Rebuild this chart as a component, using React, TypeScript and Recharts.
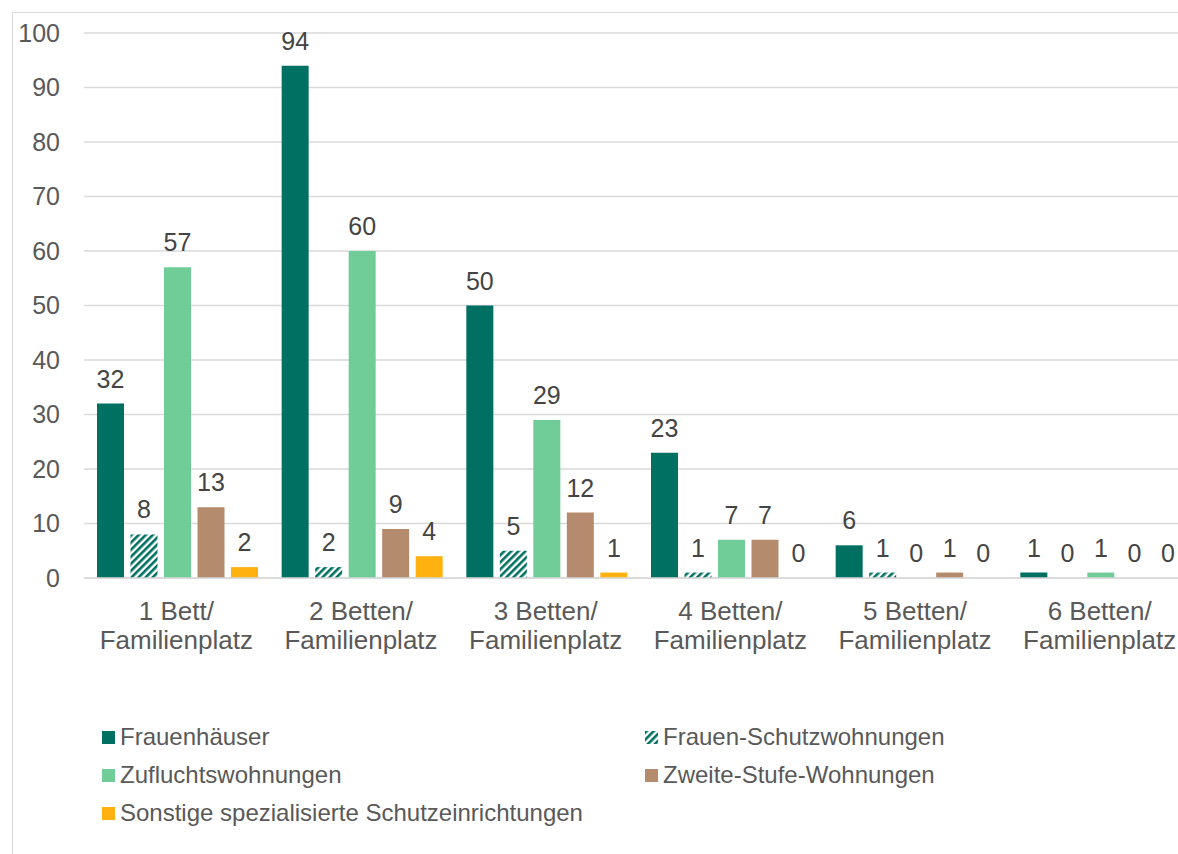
import { BarChart, Bar, XAxis, YAxis, CartesianGrid, LabelList } from 'recharts';

// categories, each split in two lines as in the original axis
const categoryTop = ['1 Bett/', '2 Betten/', '3 Betten/', '4 Betten/', '5 Betten/', '6 Betten/'];
const categoryBottom = ['Familienplatz', 'Familienplatz', 'Familienplatz', 'Familienplatz', 'Familienplatz', 'Familienplatz'];

const frauenhaeuser = [32, 94, 50, 23, 6, 1];
const schutzwohnungen = [8, 2, 5, 1, 1, 0];
const zufluchtswohnungen = [57, 60, 29, 7, 0, 1];
const zweiteStufe = [13, 9, 12, 7, 1, 0];
const sonstige = [2, 4, 1, 0, 0, 0];

const yTicks = [0, 10, 20, 30, 40, 50, 60, 70, 80, 90, 100];

const data = categoryTop.map((top, i) => ({
  name: top + '|' + categoryBottom[i],
  fh: frauenhaeuser[i],
  fs: schutzwohnungen[i],
  zw: zufluchtswohnungen[i],
  zs: zweiteStufe[i],
  so: sonstige[i],
}));

const colors = {
  fh: '#007062',
  fs: '#007062',
  zw: '#70CD98',
  zs: '#B58B6D',
  so: '#FFB20F',
};

const FONT = '"Liberation Sans", Arial, sans-serif';

const legendItems = [
  { key: 'fh', label: 'Frauenhäuser', x: 102, y: 732 },
  { key: 'fs', label: 'Frauen-Schutzwohnungen', x: 645, y: 732 },
  { key: 'zw', label: 'Zufluchtswohnungen', x: 102, y: 770 },
  { key: 'zs', label: 'Zweite-Stufe-Wohnungen', x: 645, y: 770 },
  { key: 'so', label: 'Sonstige spezialisierte Schutzeinrichtungen', x: 102, y: 808 },
];

const CategoryTick = ({ x, y, payload }: any) => {
  const [a, b] = String(payload.value).split('|');
  return (
    <text x={x} y={y} textAnchor="middle" fill="#595959" fontSize={26} fontFamily={FONT}>
      <tspan x={x} y={y + 34}>{a}</tspan>
      <tspan x={x} y={y + 63}>{b}</tspan>
    </text>
  );
};

const label = { position: 'top' as const, offset: 16, fill: '#444444', fontSize: 25, fontFamily: FONT };

export default function App() {
  return (
    <div style={{ position: 'absolute', left: 0, top: 0, width: 1178, height: 854, overflow: 'hidden', background: '#fff', fontFamily: FONT }}>
      <div style={{ position: 'absolute', left: 12, top: 12, width: 1300, height: 1000, border: '1px solid #d9d9d9' }} />
      <svg width={0} height={0} style={{ position: 'absolute' }}>
        <defs>
          <pattern id="hatch" width={5} height={5} patternUnits="userSpaceOnUse" patternTransform="rotate(45)">
            <rect x={0} y={0} width={5} height={5} fill="#fff" />
            <rect x={0} y={0} width={2.6} height={5} fill={colors.fs} />
          </pattern>
        </defs>
      </svg>
      <div style={{ position: 'absolute', left: 0, top: 0 }}>
        <BarChart
          width={1200}
          height={854}
          data={data}
          margin={{ top: 33, right: 8, left: 12, bottom: 176 }}
          barCategoryGap={13}
          barGap={6.5}
        >
          <CartesianGrid vertical={false} stroke="#d9d9d9" strokeWidth={1.5} />
          <XAxis
            dataKey="name"
            tick={<CategoryTick />}
            tickLine={false}
            axisLine={{ stroke: '#d9d9d9', strokeWidth: 1.5 }}
            height={100}
            interval={0}
          />
          <YAxis
            width={72}
            domain={[0, 100]}
            ticks={yTicks}
            tickLine={false}
            axisLine={false}
            tickMargin={18}
            tick={{ fill: '#595959', fontSize: 25, fontFamily: FONT }}
          />
          <Bar dataKey="fh" fill={colors.fh} minPointSize={0.01} isAnimationActive={false}>
            <LabelList dataKey="fh" {...label} />
          </Bar>
          <Bar dataKey="fs" fill="url(#hatch)" minPointSize={0.01} isAnimationActive={false}>
            <LabelList dataKey="fs" {...label} />
          </Bar>
          <Bar dataKey="zw" fill={colors.zw} minPointSize={0.01} isAnimationActive={false}>
            <LabelList dataKey="zw" {...label} />
          </Bar>
          <Bar dataKey="zs" fill={colors.zs} minPointSize={0.01} isAnimationActive={false}>
            <LabelList dataKey="zs" {...label} />
          </Bar>
          <Bar dataKey="so" fill={colors.so} minPointSize={0.01} isAnimationActive={false}>
            <LabelList dataKey="so" {...label} />
          </Bar>
        </BarChart>
      </div>
      {legendItems.map((it) => (
        <div key={it.key} style={{ position: 'absolute', left: it.x, top: it.y - 8, display: 'flex', alignItems: 'center', height: 26 }}>
          <svg width={13} height={13} style={{ marginRight: 5 }}>
            <rect width={13} height={13} fill={it.key === 'fs' ? 'url(#hatch)' : (colors as any)[it.key]} />
          </svg>
          <span style={{ fontSize: 24, color: '#595959', whiteSpace: 'nowrap' }}>{it.label}</span>
        </div>
      ))}
    </div>
  );
}
